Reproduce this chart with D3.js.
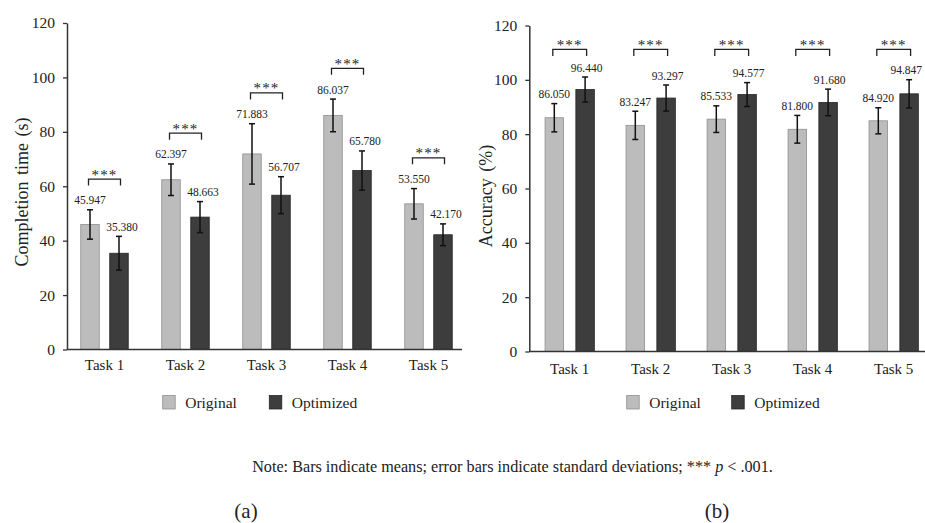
<!DOCTYPE html>
<html>
<head>
<meta charset="utf-8">
<script src="https://cdn.jsdelivr.net/npm/d3@7/dist/d3.min.js"></script>
<style>
  html, body { margin: 0; padding: 0; background: #fff; }
  svg { display: block; }
  text { font-family: "Liberation Serif", "Times New Roman", serif; fill: #222; }
</style>
</head>
<body>
<svg id="chart" width="925" height="523"></svg>
<script>
// ---- data ----
const tasks = ["Task 1", "Task 2", "Task 3", "Task 4", "Task 5"];
const series = ["Original", "Optimized"];
const yTicks = [0, 20, 40, 60, 80, 100, 120];

const timeOriginal = [45.947, 62.397, 71.883, 86.037, 53.550];
const timeOptimized = [35.380, 48.663, 56.707, 65.780, 42.170];
const timeOriginalSD = [5.4, 5.8, 11.1, 6.0, 5.6];
const timeOptimizedSD = [6.2, 5.7, 6.8, 7.2, 4.0];

const accOriginal = [86.050, 83.247, 85.533, 81.800, 84.920];
const accOptimized = [96.440, 93.297, 94.577, 91.680, 94.847];
const accOriginalSD = [5.2, 5.2, 4.9, 5.1, 4.8];
const accOptimizedSD = [4.6, 4.8, 4.4, 4.9, 5.2];

const sigLabel = "***";
const noteText = ["Note: Bars indicate means; error bars indicate standard deviations; *** ", "p", " < .001."];
const panelLabels = ["(a)", "(b)"];

const colors = { Original: "#bcbcbc", Optimized: "#3d3d3d" };
const strokes = { Original: "#8f8f8f", Optimized: "#262626" };

const svg = d3.select("#chart");
const fmt = d3.format(".3f");
const W = 925;

function drawPanel(cfg) {
  const g = svg.append("g");
  const y = d3.scaleLinear().domain([0, 120]).range([cfg.y0, cfg.y1]);
  const x = d3.scaleBand().domain(tasks).range([cfg.bandStart, cfg.bandStart + 405]).padding(0);
  const xs = d3.scalePoint().domain(series).range([-cfg.off, cfg.off]);
  const barW = 18.5;

  // y axis
  const yAxis = d3.axisLeft(y).tickValues(yTicks).tickSize(4).tickSizeOuter(0).tickPadding(8);
  const ya = g.append("g").attr("transform", `translate(${cfg.axisX},0)`).call(yAxis);
  ya.select(".domain").attr("stroke", "#333").attr("stroke-width", 1.5);
  ya.selectAll(".tick line").attr("stroke", "#333").attr("stroke-width", 1.3);
  ya.selectAll(".tick text").style("font-family", "Liberation Serif").style("font-size", "15.5px").attr("fill", "#222");

  // x axis labels
  const xAxis = d3.axisBottom(x).tickSize(0).tickPadding(cfg.xPad);
  const xa = g.append("g").attr("transform", `translate(0,${cfg.y0})`).call(xAxis);
  xa.select(".domain").remove();
  xa.selectAll(".tick text").style("font-family", "Liberation Serif").style("font-size", "15px").attr("fill", "#222");

  const rows = tasks.map((t, i) => ({
    task: t, i,
    vals: [
      { s: "Original", v: cfg.orig[i], sd: cfg.origSD[i] },
      { s: "Optimized", v: cfg.opt[i], sd: cfg.optSD[i] }
    ]
  }));

  const gx = d => x(d.task) + x.bandwidth() / 2;
  const grp = g.selectAll("g.grp").data(rows).join("g").attr("class", "grp")
    .attr("transform", d => `translate(${gx(d)},0)`);

  // bars
  grp.selectAll("rect").data(d => d.vals).join("rect")
    .attr("x", d => xs(d.s) - barW / 2)
    .attr("width", barW)
    .attr("y", d => y(d.v))
    .attr("height", d => y(0) - y(d.v))
    .attr("fill", d => colors[d.s])
    .attr("stroke", d => strokes[d.s])
    .attr("stroke-width", 0.8);

  // error bars
  const eb = grp.selectAll("g.eb").data(d => d.vals).join("g").attr("class", "eb");
  eb.append("line")
    .attr("x1", d => xs(d.s)).attr("x2", d => xs(d.s))
    .attr("y1", d => y(d.v + d.sd)).attr("y2", d => y(d.v - d.sd))
    .attr("stroke", "#111").attr("stroke-width", 1.5);
  eb.append("line")
    .attr("x1", d => xs(d.s) - 3).attr("x2", d => xs(d.s) + 3)
    .attr("y1", d => y(d.v + d.sd)).attr("y2", d => y(d.v + d.sd))
    .attr("stroke", "#111").attr("stroke-width", 1.5);
  eb.append("line")
    .attr("x1", d => xs(d.s) - 3).attr("x2", d => xs(d.s) + 3)
    .attr("y1", d => y(d.v - d.sd)).attr("y2", d => y(d.v - d.sd))
    .attr("stroke", "#111").attr("stroke-width", 1.5);

  // value labels
  grp.each(function(row) {
    const gg = d3.select(this);
    const cx = gx(row);
    row.vals.forEach(d => {
      const t = gg.append("text").attr("class", "val")
        .attr("y", y(d.v + d.sd) - 5.5)
        .attr("text-anchor", "middle")
        .style("font-size", "11.5px")
        .attr("fill", "#333")
        .text(fmt(d.v));
      let lx = xs(d.s) + (d.s === "Optimized" ? cfg.optLabelShift : 0);
      const w = t.node().getComputedTextLength();
      if (cx + lx + w / 2 > W - 3) lx = W - 3 - w / 2 - cx;
      t.attr("x", lx);
    });
  });

  // significance brackets
  grp.each(function(d) {
    const gg = d3.select(this);
    const top = cfg.sigFixed != null ? cfg.sigFixed
      : Math.max(d.vals[0].v + d.vals[0].sd, d.vals[1].v + d.vals[1].sd) + 11.3;
    const by = y(top);
    const xl = xs("Original") - 1.5, xr = xs("Optimized") + 1.5;
    gg.append("path")
      .attr("d", `M${xl},${by + 6.5}V${by}H${xr}V${by + 6.5}`)
      .attr("fill", "none").attr("stroke", "#222").attr("stroke-width", 1.3);
    gg.append("text")
      .attr("x", (xl + xr) / 2).attr("y", by + 0.5)
      .attr("text-anchor", "middle")
      .style("font-size", "15px")
      .style("letter-spacing", "1.2px")
      .attr("fill", "#333")
      .text(sigLabel);
  });

  // x axis line
  g.append("line")
    .attr("x1", cfg.axisX).attr("x2", cfg.xEnd)
    .attr("y1", cfg.y0).attr("y2", cfg.y0)
    .attr("stroke", "#333").attr("stroke-width", 1.5);

  // y title
  g.append("text")
    .attr("transform", `translate(${cfg.titleX},${cfg.titleY}) rotate(-90)`)
    .attr("text-anchor", "middle")
    .style("font-size", "18px")
    .style("word-spacing", "2px")
    .text(cfg.title);

  // legend
  const lg = g.append("g").attr("transform", `translate(${cfg.legX},${cfg.legY})`);
  series.forEach((s, i) => {
    const ox = i * cfg.legStep;
    lg.append("rect").attr("x", ox).attr("y", -12.5).attr("width", 12.5).attr("height", 13.5)
      .attr("fill", colors[s]).attr("stroke", strokes[s]).attr("stroke-width", 0.8);
    lg.append("text").attr("x", ox + 22.5).attr("y", 0)
      .style("font-size", "15.5px").text(s);
  });
}

drawPanel({
  axisX: 67, xEnd: 462, bandStart: 64, y0: 349.5, y1: 23, off: 14.5, xPad: 10,
  orig: timeOriginal, opt: timeOptimized, origSD: timeOriginalSD, optSD: timeOptimizedSD,
  optLabelShift: 3, sigFixed: null,
  title: "Completion time (s)", titleX: 28, titleY: 192,
  legX: 162.7, legY: 408, legStep: 106.6
});

drawPanel({
  axisX: 529.3, xEnd: 925, bandStart: 529.2, y0: 351.5, y1: 25.5, off: 15.4, xPad: 12,
  orig: accOriginal, opt: accOptimized, origSD: accOriginalSD, optSD: accOptimizedSD,
  optLabelShift: 1.5, sigFixed: 111.2,
  title: "Accuracy (%)", titleX: 492, titleY: 196,
  legX: 626.7, legY: 408, legStep: 105
});

// note
const note = svg.append("text").attr("x", 512.5).attr("y", 471.5).attr("text-anchor", "middle")
  .style("font-size", "16.2px").attr("fill", "#333");
note.append("tspan").text(noteText[0]);
note.append("tspan").style("font-style", "italic").text(noteText[1]);
note.append("tspan").text(noteText[2]);

// panel labels
svg.append("text").attr("x", 246).attr("y", 518).attr("text-anchor", "middle")
  .style("font-size", "21px").text(panelLabels[0]);
svg.append("text").attr("x", 717).attr("y", 518).attr("text-anchor", "middle")
  .style("font-size", "21px").text(panelLabels[1]);
</script>
</body>
</html>
